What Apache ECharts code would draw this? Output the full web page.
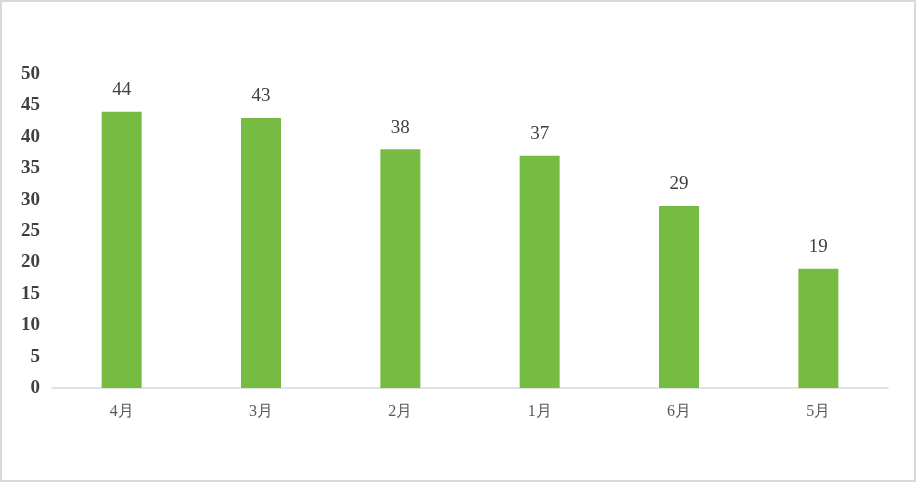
<!DOCTYPE html>
<html><head><meta charset="utf-8">
<script src="https://cdn.jsdelivr.net/npm/echarts@6/dist/echarts.min.js"></script>
<style>html,body{margin:0;padding:0;background:#fff}#c{width:916px;height:482px;box-sizing:border-box;border:2px solid #d9d9d9}</style>
</head><body><div id="c"></div>
<script>
const categories = ['4月','3月','2月','1月','6月','5月'];
const values = [44, 43, 38, 37, 29, 19];
const yTicks = {min: 0, max: 50, interval: 5};
const chart = echarts.init(document.getElementById('c'));
chart.setOption({
  animation: false,
  grid: {left: 50, right: 26, top: 72, bottom: 92},
  xAxis: {
    type: 'category', data: categories,
    axisLine: {lineStyle: {color: '#d9d9d9', width: 1.5}},
    axisTick: {show: false},
    axisLabel: {color: '#595959', fontFamily: 'Liberation Serif', fontSize: 16, margin: 16}
  },
  yAxis: {
    type: 'value', min: yTicks.min, max: yTicks.max, interval: yTicks.interval,
    axisLine: {show: false}, axisTick: {show: false}, splitLine: {show: false},
    axisLabel: {color: '#404040', fontFamily: 'Liberation Serif', fontSize: 19, fontWeight: 'bold', margin: 12}
  },
  series: [{
    type: 'bar', data: values, barWidth: 40,
    itemStyle: {color: '#76bc43'},
    label: {show: true, position: 'top', distance: 12, color: '#404040', fontFamily: 'Liberation Serif', fontSize: 19}
  }]
});
</script></body></html>
